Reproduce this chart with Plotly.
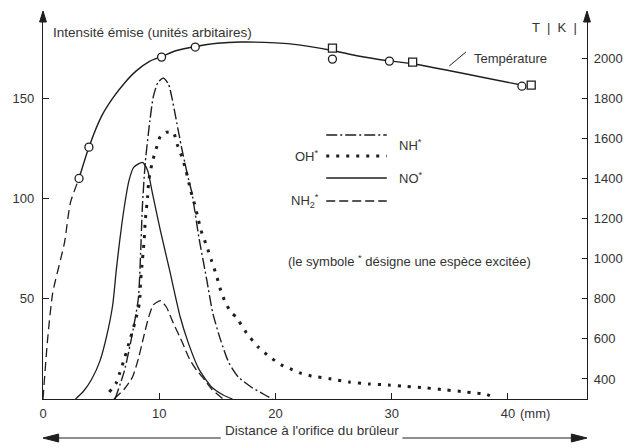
import plotly.graph_objects as go

# ---- emission intensity profiles (distance in mm, intensity in arbitrary units)
nh_x = [6.2, 7.0, 7.6, 8.2, 8.4, 8.55, 8.8, 9.2, 9.5, 9.9, 10.35, 10.8, 11.1, 11.5, 11.9,
        12.5, 12.8, 13.4, 14.1, 14.6, 15.3, 16.0, 16.8, 17.9, 19.1, 19.75]
nh_i = [0, 14, 30, 50, 73, 96, 118, 139, 151, 158, 160, 157, 150, 138, 126,
        110, 103, 81, 59, 43, 29, 18, 11, 6, 2, 0]

oh_x = [5.7, 6.3, 6.6, 7.0, 7.5, 7.9, 8.3, 8.4, 8.55, 8.7, 8.8, 9.0, 9.1, 9.4, 9.8, 10.1,
        10.6, 11.2, 11.6, 12.0, 12.3, 12.7, 13.0, 13.3, 13.6, 14.1, 14.5, 14.9, 15.3, 15.7,
        16.2, 16.6, 17.5, 18.5, 19.5, 20.5, 21.3, 22.1, 23.1, 24.8, 26.3, 28.0, 29.7, 31.3,
        33.0, 34.7, 36.4, 37.1, 38.0, 38.8]
oh_i = [3.5, 8, 13, 20, 30, 38, 48, 59, 69, 79, 89, 101, 109, 118, 126, 131,
        133, 133, 126, 120, 114, 104, 98, 91, 84, 76, 69, 62, 54, 48,
        43, 41, 33, 26, 21, 17, 15, 13, 11.5, 10, 8.5, 7.5, 7, 6.3,
        5.5, 4.5, 3.5, 3, 2.5, 1]

no_x = [2.8, 3.5, 4.2, 4.9, 5.5, 6.0, 6.3, 6.6, 7.0, 7.4, 7.8, 8.55, 9.0, 9.4, 10.1,
        10.9, 11.8, 12.5, 13.4, 14.5, 15.5, 16.3]
no_i = [0, 4, 10, 19, 32, 47, 64, 79, 96, 109, 115.5, 118, 114, 103, 84,
        64, 41, 28, 15, 6, 2, 0]

nh2_x = [6.1, 7.0, 7.7, 8.2, 8.7, 9.1, 9.5, 10.1, 10.6, 11.2, 12.0, 12.6, 13.2, 13.7, 14.5, 15.5]
nh2_i = [0, 5, 11, 20, 32, 41, 47, 49, 46, 38, 28, 20, 14.5, 11, 5, 0]

# ---- flame temperature (K)
temp_dash_x = [0, 0.4, 0.84, 1.85, 2.35, 3.1]
temp_dash_t = [300, 600, 830, 1080, 1277, 1400]
temp_x = [3.1, 3.95, 5.0, 6.0, 7.0, 8.0, 9.2, 10.2, 11.5, 13.1, 15.0, 17.0, 20.0, 22.0,
          24.9, 27.0, 29.8, 31.8, 35.0, 38.0, 41.5]
temp_t = [1400, 1556, 1706, 1800, 1875, 1935, 1985, 2008, 2038, 2058, 2074, 2080, 2076, 2066,
          2038, 2012, 1986, 1972, 1937, 1902, 1862]
circ_x = [3.1, 3.95, 10.2, 13.1, 24.9, 29.8, 41.2]
circ_t = [1400, 1556, 2005, 2055, 1995, 1985, 1860]
sq_x = [24.9, 31.8, 42.0]
sq_t = [2050, 1980, 1865]

# ---- axes
x_ticks = [0, 10, 20, 30, 40]
i_ticks = [50, 100, 150]
t_ticks = [400, 600, 800, 1000, 1200, 1400, 1600, 1800, 2000]

INK = "#1e1e1e"
TXT = "#333333"
FONT = "Liberation Sans"
FS = 13

W, H = 635, 448
L, R, T, B = 40, 38, 18, 49
PW, PH = W - L - R, H - T - B


def px(x):
    return (x - L) / PW


def py(y):
    return (H - B - y) / PH


fig = go.Figure()

line_common = dict(mode="lines", showlegend=False, hoverinfo="skip")

fig.add_trace(go.Scatter(x=no_x, y=no_i, line=dict(color=INK, width=1.3, shape="spline", smoothing=0.6), **line_common))
fig.add_trace(go.Scatter(x=nh2_x, y=nh2_i, line=dict(color=INK, width=1.3, dash="9px,4px", shape="spline", smoothing=0.6), **line_common))
fig.add_trace(go.Scatter(x=nh_x, y=nh_i, line=dict(color=INK, width=1.4, dash="11px,3px,2px,3px", shape="spline", smoothing=0.6), **line_common))
fig.add_trace(go.Scatter(x=oh_x, y=oh_i, line=dict(color=INK, width=3, dash="3px,7px", shape="spline", smoothing=0.6), **line_common))

# temperature on the right-hand axis
fig.add_trace(go.Scatter(x=temp_dash_x, y=temp_dash_t, yaxis="y2",
                         line=dict(color=INK, width=1.3, dash="9px,5px", shape="spline", smoothing=0.6), **line_common))
fig.add_trace(go.Scatter(x=temp_x, y=temp_t, yaxis="y2",
                         line=dict(color=INK, width=1.4, shape="spline", smoothing=0.8), **line_common))
fig.add_trace(go.Scatter(x=circ_x, y=circ_t, yaxis="y2", mode="markers", showlegend=False, hoverinfo="skip",
                         marker=dict(symbol="circle", size=8, color="white", line=dict(color=INK, width=1.3))))
fig.add_trace(go.Scatter(x=sq_x, y=sq_t, yaxis="y2", mode="markers", showlegend=False, hoverinfo="skip",
                         marker=dict(symbol="square", size=8, color="white", line=dict(color=INK, width=1.3))))

shapes = []
annotations = []

# arrowheads on the two vertical axes
for ax_x in (L, W - R):
    shapes.append(dict(type="path", xref="paper", yref="paper",
                       path=f"M {px(ax_x - 3.5)} {py(22)} L {px(ax_x)} {py(11)} L {px(ax_x + 3.5)} {py(22)} Z",
                       fillcolor=INK, line=dict(color=INK, width=1)))
    shapes.append(dict(type="line", xref="paper", yref="paper",
                       x0=px(ax_x), x1=px(ax_x), y0=1, y1=py(13), line=dict(color=INK, width=1.4)))

# distance arrow under the x axis
ay = 438
shapes.append(dict(type="line", xref="paper", yref="paper", x0=px(52), x1=px(222), y0=py(ay), y1=py(ay),
                   line=dict(color=INK, width=1.2)))
shapes.append(dict(type="line", xref="paper", yref="paper", x0=px(408), x1=px(585), y0=py(ay), y1=py(ay),
                   line=dict(color=INK, width=1.2)))
shapes.append(dict(type="path", xref="paper", yref="paper",
                   path=f"M {px(40)} {py(ay)} L {px(56)} {py(ay - 4)} L {px(56)} {py(ay + 4)} Z",
                   fillcolor=INK, line=dict(color=INK, width=1)))
shapes.append(dict(type="path", xref="paper", yref="paper",
                   path=f"M {px(597)} {py(ay)} L {px(581)} {py(ay - 4)} L {px(581)} {py(ay + 4)} Z",
                   fillcolor=INK, line=dict(color=INK, width=1)))
annotations.append(dict(xref="paper", yref="paper", x=px(315), y=py(ay + 2), text="Distance à l'orifice du brûleur",
                        showarrow=False, font=dict(family=FONT, size=13.5, color=TXT)))

# axis titles
annotations.append(dict(xref="paper", yref="paper", x=px(48), y=py(23), xanchor="left",
                        text="Intensité émise (unités arbitaires)", showarrow=False,
                        font=dict(family=FONT, size=13.5, color=TXT)))
annotations.append(dict(xref="paper", yref="paper", x=px(589), y=py(18), xanchor="right",
                        text="T  |  K  |", showarrow=False, font=dict(family=FONT, size=FS, color=TXT)))
annotations.append(dict(x=40, y=0, xref="x", yref="y", xanchor="left", yanchor="top", xshift=10, yshift=-5,
                        text="(mm)", showarrow=False, font=dict(family=FONT, size=FS, color=TXT)))

# temperature label with its leader line
annotations.append(dict(xref="paper", yref="paper", x=px(479), y=py(49), xanchor="left",
                        text="Température", showarrow=False, font=dict(family=FONT, size=FS, color=TXT)))
shapes.append(dict(type="line", xref="paper", yref="paper", x0=px(456), y0=py(66), x1=px(473), y1=py(52),
                   line=dict(color=INK, width=1)))

# key
key_x0, key_x1 = 330, 392
rows = [
    (135, "11px,3px,2px,3px", 1.4, "NH<sup>*</sup>", "right"),
    (156, "3px,7px", 3, "OH<sup>*</sup>", "left"),
    (178, "solid", 1.3, "NO<sup>*</sup>", "right"),
    (201, "9px,4px", 1.3, "NH<sub>2</sub><sup>*</sup>", "left"),
]
for y, dash, width, label, side in rows:
    shapes.append(dict(type="line", xref="paper", yref="paper", x0=px(key_x0), x1=px(key_x1),
                       y0=py(y), y1=py(y), line=dict(color=INK, width=width, dash=dash)))
    if side == "right":
        annotations.append(dict(xref="paper", yref="paper", x=px(key_x1 + 10), y=py(y), xanchor="left",
                                text=label, showarrow=False, font=dict(family=FONT, size=FS, color=TXT)))
    else:
        annotations.append(dict(xref="paper", yref="paper", x=px(key_x0 - 5), y=py(y), xanchor="right",
                                text=label, showarrow=False, font=dict(family=FONT, size=FS, color=TXT)))
annotations.append(dict(xref="paper", yref="paper", x=px(542), y=py(261), xanchor="right",
                        text="(le symbole <sup>*</sup> désigne une espèce excitée)", showarrow=False,
                        font=dict(family=FONT, size=FS, color=TXT)))

axis_common = dict(showgrid=False, zeroline=False, showline=True, linecolor=INK, linewidth=1.4,
                   tickcolor=INK, tickwidth=1.2, tickfont=dict(family=FONT, size=FS, color=TXT))

fig.update_layout(
    width=W, height=H,
    margin=dict(l=L, r=R, t=T, b=B),
    paper_bgcolor="white", plot_bgcolor="white",
    showlegend=False,
    xaxis=dict(range=[0, 46.8], tickvals=x_ticks, ticks="inside", ticklen=6, ticklabelstandoff=2, **axis_common),
    yaxis=dict(range=[0, 190], tickvals=i_ticks, ticks="inside", ticklen=6, ticklabelstandoff=5, **axis_common),
    yaxis2=dict(range=[300, 2200], tickvals=t_ticks, overlaying="y", side="right", ticks="inside",
                ticklen=5, ticklabelstandoff=3, **axis_common),
    shapes=shapes,
    annotations=annotations,
)

fig.write_html("out.html")
